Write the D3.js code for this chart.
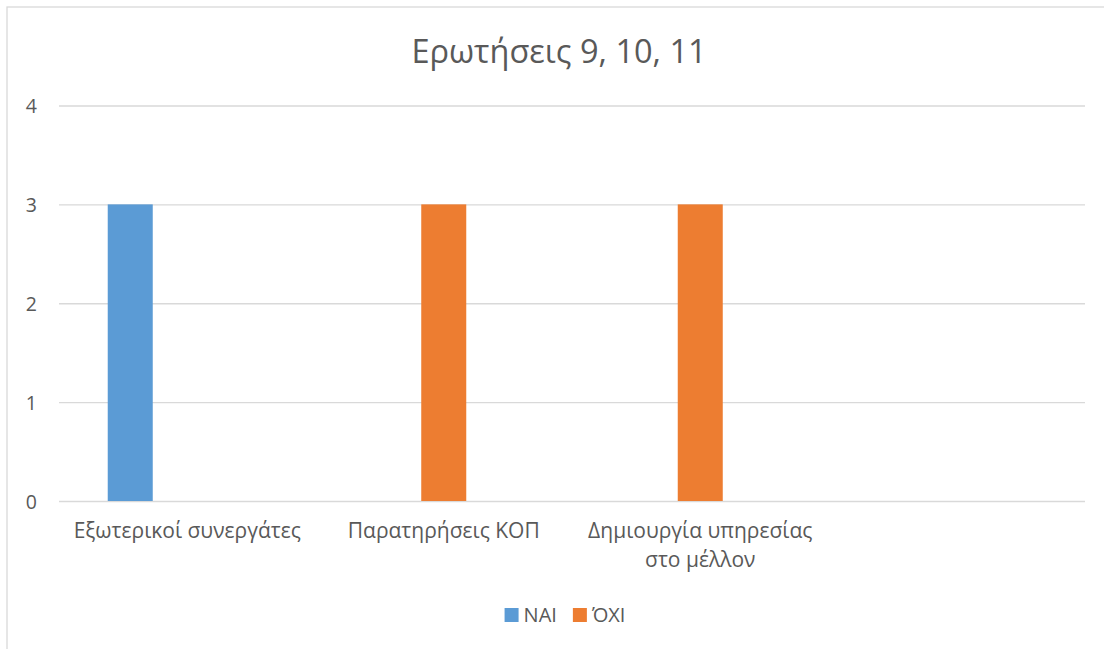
<!DOCTYPE html>
<html>
<head>
<meta charset="utf-8">
<script src="https://cdn.jsdelivr.net/npm/d3@7"></script>
<style>
  html, body { margin: 0; padding: 0; background: #fff; }
  svg { display: block; }
  text { font-family: "Open Sans", "Noto Sans", sans-serif; fill: #595959; }
</style>
</head>
<body>
<svg id="chart" width="1104" height="649"></svg>
<script>
// ---- data ----
const title = "Ερωτήσεις 9, 10, 11";
const categories = ["Εξωτερικοί συνεργάτες", "Παρατηρήσεις ΚΟΠ", "Δημιουργία υπηρεσίας στο μέλλον", ""];
const categoryLines = [["Εξωτερικοί συνεργάτες"], ["Παρατηρήσεις ΚΟΠ"], ["Δημιουργία υπηρεσίας", "στο μέλλον"], [""]];
const seriesNames = ["ΝΑΙ", "ΌΧΙ"];
const naiValues = [3, 0, 0, null];
const oxiValues = [0, 3, 3, null];
const yTicks = [0, 1, 2, 3, 4];
const colors = ["#5b9bd5", "#ed7d31"];
// the source chart reserves a third (empty) column slot per category
const slots = ["ΝΑΙ", "ΌΧΙ", "empty"];

const series = [
  { name: seriesNames[0], values: naiValues, color: colors[0] },
  { name: seriesNames[1], values: oxiValues, color: colors[1] }
];

// ---- layout ----
const svg = d3.select("#chart");
const plot = { left: 59, right: 1085, top: 105.5, bottom: 501 };

// chart border (extends past the right/bottom of the picture)
svg.append("rect")
  .attr("x", 7).attr("y", 7).attr("width", 1110).attr("height", 660)
  .attr("fill", "#fff").attr("stroke", "#d9d9d9").attr("stroke-width", 1.3);

const x0 = d3.scaleBand().domain(categories.map((c, i) => i))
  .range([plot.left, plot.right]).paddingInner(0.38).paddingOuter(0.19);
const x1 = d3.scaleBand().domain(slots).range([0, x0.bandwidth()])
  .paddingInner(12 / 57).paddingOuter(0);
const y = d3.scaleLinear().domain([0, 4]).range([plot.bottom, plot.top]);

// gridlines + y labels
const yAxis = d3.axisLeft(y).tickValues(yTicks).tickSize(-(plot.right - plot.left)).tickPadding(22).tickFormat(d3.format("d"));
const gy = svg.append("g").attr("transform", `translate(${plot.left},0)`).call(yAxis);
gy.select(".domain").remove();
gy.selectAll(".tick line").attr("stroke", "#d9d9d9").attr("stroke-width", 1.3);
gy.selectAll(".tick text").attr("font-size", 19.5).attr("fill", "#595959").attr("dy", "0.36em");

// bars
series.forEach(s => {
  svg.append("g").selectAll("rect")
    .data(s.values.map((v, i) => ({ v, i })).filter(d => d.v != null && d.v > 0))
    .join("rect")
    .attr("x", d => x0(d.i) + x1(s.name))
    .attr("width", x1.bandwidth())
    .attr("y", d => y(d.v))
    .attr("height", d => y(0) - y(d.v))
    .attr("fill", s.color);
});

// category labels
const xAxis = d3.axisBottom(x0).tickSize(0).tickFormat(() => "");
const gx = svg.append("g").attr("transform", `translate(0,${plot.bottom})`).call(xAxis);
gx.select(".domain").remove();
gx.selectAll(".tick").each(function (d) {
  const lines = categoryLines[d];
  const t = d3.select(this).append("text")
    .attr("text-anchor", "middle").attr("font-size", 21).attr("fill", "#595959");
  lines.forEach((ln, k) => {
    t.append("tspan").attr("x", 0).attr("y", 37 + k * 29).text(ln);
  });
});

// title
svg.append("text").attr("x", 559).attr("y", 63).attr("text-anchor", "middle")
  .attr("font-size", 32.5).attr("fill", "#595959").text(title);

// legend
const lg = svg.append("g");
let lx = 0;
series.forEach((s, i) => {
  const g = lg.append("g").attr("transform", `translate(${lx},0)`);
  g.append("rect").attr("x", 0).attr("y", -13.5).attr("width", 14).attr("height", 14).attr("fill", s.color);
  const t = g.append("text").attr("x", 19).attr("y", 0).attr("font-size", 20).text(s.name);
  const w = 19 + t.node().getComputedTextLength();
  lx += w + 16;
});
const totalW = lx - 16;
lg.attr("transform", `translate(${565 - totalW / 2},621.5)`);
</script>
</body>
</html>
